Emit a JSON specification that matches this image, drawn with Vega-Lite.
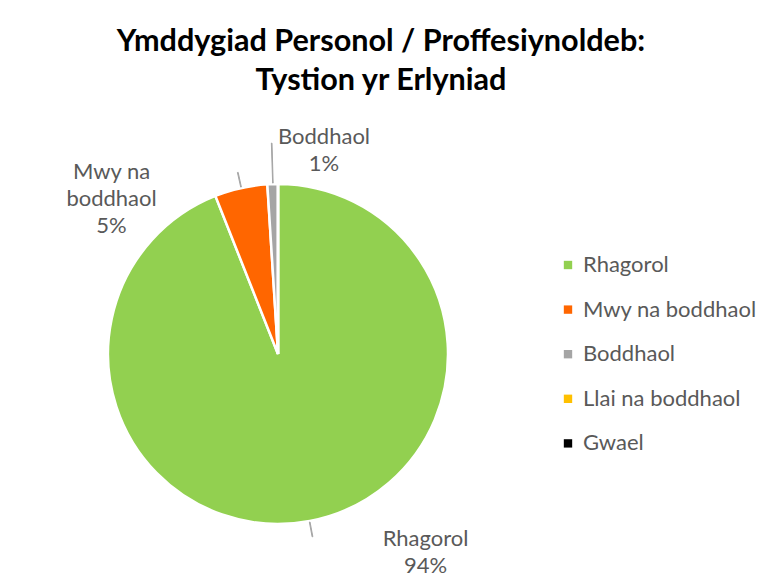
{
  "$schema": "https://vega.github.io/schema/vega-lite/v6.json",
  "autosize": {"type": "none"},
  "width": 360,
  "height": 360,
  "padding": {"left": 98, "top": 174, "right": 317, "bottom": 47},
  "background": "white",
  "title": {
    "text": ["Ymddygiad Personol / Proffesiynoldeb:", "Tystion yr Erlyniad"],
    "font": "Lato",
    "fontSize": 30.6,
    "fontWeight": "bold",
    "color": "#000000",
    "lineHeight": 39,
    "anchor": "middle",
    "dx": 103,
    "offset": 29
  },
  "data": {
    "values": [
      {"cat": "Rhagorol", "value": 94, "order": 1},
      {"cat": "Mwy na boddhaol", "value": 5, "order": 2},
      {"cat": "Boddhaol", "value": 1, "order": 3},
      {"cat": "Llai na boddhaol", "value": 0, "order": 4},
      {"cat": "Gwael", "value": 0, "order": 5}
    ]
  },
  "transform": [
    {"stack": "value", "groupby": [], "sort": [{"field": "order", "order": "ascending"}], "as": ["v0", "v1"]},
    {"calculate": "(datum.v0 + datum.v1) / 2", "as": "mid"},
    {"calculate": "datum.value + '%'", "as": "pct"}
  ],
  "layer": [
    {
      "mark": {"type": "arc", "radius": 170, "stroke": "white", "strokeWidth": 2.5},
      "encoding": {
        "theta": {"field": "v0", "type": "quantitative"},
        "theta2": {"field": "v1"},
        "color": {
          "field": "cat",
          "type": "nominal",
          "scale": {
            "domain": ["Rhagorol", "Mwy na boddhaol", "Boddhaol", "Llai na boddhaol", "Gwael"],
            "range": ["#92D050", "#FF6600", "#A5A5A5", "#FFC000", "#000000"]
          },
          "legend": {
            "title": null,
            "orient": "none",
            "legendX": 459,
            "legendY": 80,
            "symbolType": "square",
            "symbolSize": 70,
            "symbolStrokeWidth": 0,
            "labelFont": "Lato",
            "labelFontSize": 22,
            "labelColor": "#595959",
            "labelOffset": 4,
            "rowPadding": 22.6,
            "labelLimit": 300
          }
        }
      }
    },
    {
      "transform": [{"filter": "datum.cat == 'Boddhaol'"}],
      "mark": {"type": "arc", "radius": 211, "radius2": 171, "theta2Offset": 0.003, "fill": "#A6A6A6", "stroke": "#A6A6A6", "strokeWidth": 1},
      "encoding": {
        "theta": {"field": "mid", "type": "quantitative"},
        "theta2": {"field": "mid"}
      }
    },
    {
      "transform": [{"filter": "datum.cat == 'Rhagorol' || datum.cat == 'Mwy na boddhaol'"}],
      "mark": {"type": "arc", "radius": 186, "radius2": 171, "theta2Offset": 0.004, "fill": "#A6A6A6", "stroke": "#A6A6A6", "strokeWidth": 1},
      "encoding": {
        "theta": {"field": "mid", "type": "quantitative"},
        "theta2": {"field": "mid"}
      }
    },
    {
      "transform": [
        {"filter": "datum.cat == 'Rhagorol'"},
        {"calculate": "[datum.cat, datum.pct]", "as": "lbl"}
      ],
      "mark": {"type": "text", "radius": 190, "dx": 112, "dy": -1.5, "font": "Lato", "fontSize": 22, "color": "#595959", "lineHeight": 27, "align": "center", "baseline": "middle"},
      "encoding": {
        "theta": {"field": "mid", "type": "quantitative"},
        "text": {"field": "lbl"}
      }
    },
    {
      "transform": [
        {"filter": "datum.cat == 'Mwy na boddhaol'"},
        {"calculate": "[slice(datum.cat, 0, 6), slice(datum.cat, 7), datum.pct]", "as": "lbl"}
      ],
      "mark": {"type": "text", "radius": 190, "dx": -125, "dy": 3, "font": "Lato", "fontSize": 22, "color": "#595959", "lineHeight": 27, "align": "center", "baseline": "middle"},
      "encoding": {
        "theta": {"field": "mid", "type": "quantitative"},
        "text": {"field": "lbl"}
      }
    },
    {
      "transform": [
        {"filter": "datum.cat == 'Boddhaol'"},
        {"calculate": "[datum.cat, datum.pct]", "as": "lbl"}
      ],
      "mark": {"type": "text", "radius": 190, "dx": 52, "dy": -27, "font": "Lato", "fontSize": 22, "color": "#595959", "lineHeight": 27, "align": "center", "baseline": "middle"},
      "encoding": {
        "theta": {"field": "mid", "type": "quantitative"},
        "text": {"field": "lbl"}
      }
    }
  ],
  "config": {"view": {"stroke": null}}
}
